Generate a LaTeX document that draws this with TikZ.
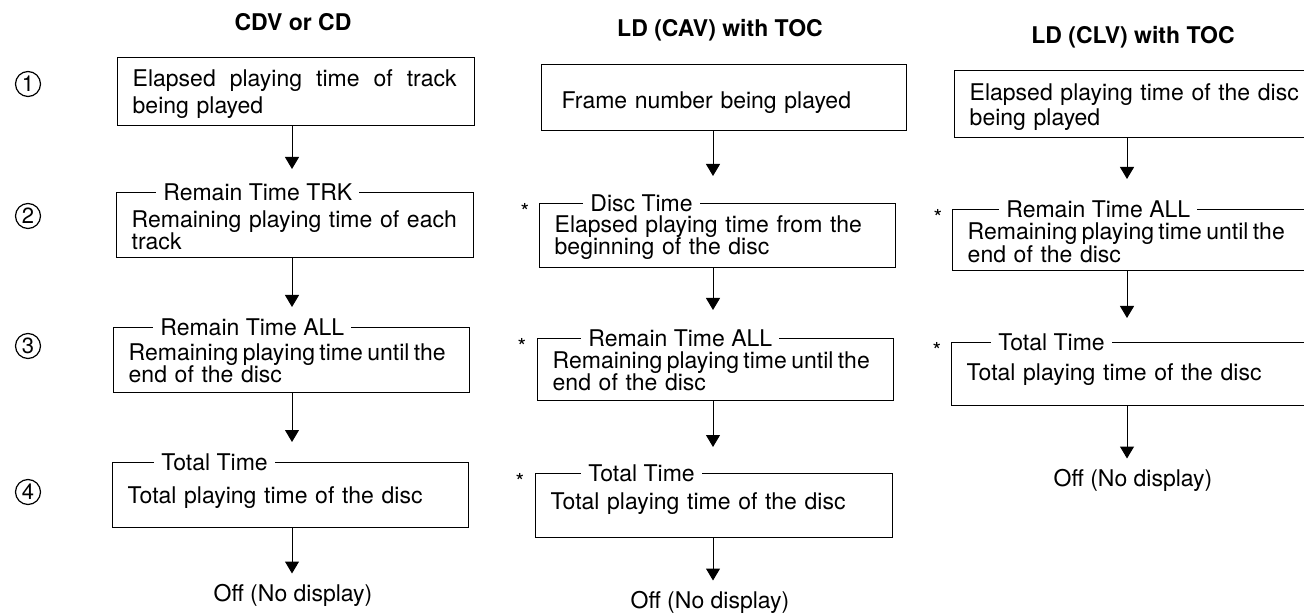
\documentclass[tikz,border=0pt]{standalone}
\usepackage{fontspec}
\setmainfont{TeX Gyre Heros}
\usetikzlibrary{arrows.meta}

% body font with fixed line distance, strut for the first line
\newcommand{\bodyfont}[1]{\fontsize{11.5}{#1}\selectfont\lineskiplimit=-20pt\relax}
\newcommand{\sr}[1]{\rule{0pt}{#1}}

\begin{document}
\begin{tikzpicture}[
		x=0.5pt, y=-0.5pt,
		h/.style = {font=\bfseries\fontsize{11.5}{13}\selectfont},
		b/.style = {rectangle, draw, line width=0.7pt, anchor=north west, align=left, inner xsep=7.5pt, inner ysep=1pt, font=\bodyfont{11}},
		t/.style = {anchor=west, fill=white, inner xsep=3.5pt, inner ysep=0.5pt, font=\fontsize{11.5}{12.5}\selectfont},
		n/.style = {circle, draw, line width=0.6pt, inner sep=0pt, minimum size=12.5pt, font=\fontsize{11}{11}\selectfont},
		st/.style = {inner sep=0pt, font=\fontsize{11}{11}\selectfont},
		o/.style = {inner sep=2pt, font=\fontsize{11.5}{12.5}\selectfont},
		r/.style = {-{Triangle[width=7pt, length=6pt]}, line width=0.5pt}
		]
		
		\useasboundingbox (0,0) rectangle (1304,614);
		\clip (0,0) rectangle (1304,614);
		
		% === === Nodes === ===
		\node[h]	(h1)	at	(293, 22)	{CDV or CD};
		\node[h]	(h2)	at	(720, 30)	{LD (CAV) with TOC};
		\node[h]	(h3)	at	(1133, 37)	{LD (CLV) with TOC};
		
		\node[n]	(n1)	at	(28, 84)	{1};
		\node[n]	(n2)	at	(28, 216)	{2};
		\node[n]	(n3)	at	(28, 346)	{3};
		\node[n]	(n4)	at	(28, 492)	{4};
		
		\coordinate	(c1)	at	(292, 0);
		\coordinate	(c2)	at	(713, 0);
		\coordinate	(c3)	at	(1127, 0);
		
		\node[b, text width=163.5pt, minimum height=34pt, font=\bodyfont{13.5}]	(b11)	at	(117, 57)	{\sr{11pt}\hbox to 162pt{Elapsed\hfill playing\hfill time\hfill of\hfill track}\\being played};
		\node[b, text width=163.5pt, minimum height=32.5pt]	(b12)	at	(116, 192)	{\sr{13.2pt}Remaining playing time of each\\track};
		\node[b, text width=163pt, minimum height=32.5pt]	(b13)	at	(113, 327)	{\sr{11.7pt}{\spaceskip=2.2pt\relax Remaining playing time until the}\\end of the disc};
		\node[b, text width=163pt, minimum height=32.5pt]	(b14)	at	(112, 462)	{\sr{11pt}Total playing time of the disc};
		
		\node[b, text width=162.5pt, minimum height=33pt, inner xsep=10pt]	(b21)	at	(541, 64)	{\sr{13.5pt}Frame number being played};
		\node[b, text width=163pt, minimum height=32pt]		(b22)	at	(539, 203)	{\sr{10.5pt}Elapsed playing time from the\\beginning of the disc};
		\node[b, text width=163pt, minimum height=31pt]		(b23)	at	(537, 338)	{\sr{9.5pt}{\spaceskip=2.2pt\relax Remaining playing time until the}\\end of the disc};
		\node[b, text width=163.5pt, minimum height=32pt]	(b24)	at	(535, 473)	{Total playing time of the disc\rule[-5pt]{0pt}{0pt}};
		
		\node[b, text width=171pt, minimum height=33.5pt, font=\bodyfont{12.5}]	(b31)	at	(954, 70)	{\sr{11.5pt}Elapsed playing time of the disc\\being played};
		\node[b, text width=172pt, minimum height=30.5pt, font=\bodyfont{11.5}]	(b32)	at	(952, 209)	{\sr{10.5pt}{\spaceskip=2.2pt\relax Remaining playing time until the}\\end of the disc};
		\node[b, text width=172pt, minimum height=31.5pt]	(b33)	at	(951, 342)	{\sr{9pt}Total playing time of the disc};
		
		\node[t]	(t12)	at	([xshift=20pt]b12.north west)	{Remain Time TRK};
		\node[t]	(t13)	at	([xshift=20pt]b13.north west)	{Remain Time ALL};
		\node[t]	(t14)	at	([xshift=21pt]b14.north west)	{Total Time};
		\node[t]	(t22)	at	([xshift=22pt]b22.north west)	{Disc Time};
		\node[t]	(t23)	at	([xshift=22pt]b23.north west)	{Remain Time ALL};
		\node[t]	(t24)	at	([xshift=23pt]b24.north west)	{Total Time};
		\node[t]	(t32)	at	([xshift=23.5pt]b32.north west)	{Remain Time ALL};
		\node[t]	(t33)	at	([xshift=20pt]b33.north west)	{Total Time};
		
		\node[st]	(s22)	at	([shift={(-7pt,-4pt)}]b22.north west)	{*};
		\node[st]	(s23)	at	([shift={(-7.5pt,-4pt)}]b23.north west)	{*};
		\node[st]	(s24)	at	([shift={(-7.5pt,-4pt)}]b24.north west)	{*};
		\node[st]	(s32)	at	([shift={(-7pt,-4pt)}]b32.north west)	{*};
		\node[st]	(s33)	at	([shift={(-7pt,-4pt)}]b33.north west)	{*};
		
		\node[o]	(o1)	at	(293, 595)	{Off (No display)};
		\node[o]	(o2)	at	(710, 602)	{Off (No display)};
		\node[o]	(o3)	at	(1133, 480)	{Off (No display)};
		
		% === === Lines === ===
		\draw[r, shorten >=11.5pt]	(b11.south -| c1)	--	(b12.north -| c1);
		\draw[r, shorten >=10pt]	(b12.south -| c1)	--	(b13.north -| c1);
		\draw[r, shorten >=10pt]	(b13.south -| c1)	--	(b14.north -| c1);
		\draw[r, shorten >=3pt]		(b14.south -| c1)	--	(o1.north -| c1);
		
		\draw[r, shorten >=13.5pt]	(b21.south -| c2)	--	(b22.north -| c2);
		\draw[r, shorten >=14pt]	(b22.south -| c2)	--	(b23.north -| c2);
		\draw[r, shorten >=13pt]	(b23.south -| c2)	--	(b24.north -| c2);
		\draw[r, shorten >=3pt]		(b24.south -| c2)	--	(o2.north -| c2);
		
		\draw[r, shorten >=15pt]	(b31.south -| c3)	--	(b32.north -| c3);
		\draw[r, shorten >=12pt]	(b32.south -| c3)	--	(b33.north -| c3);
		\draw[r, shorten >=3pt]		(b33.south -| c3)	--	(o3.north -| c3);
		
\end{tikzpicture}
\end{document}
